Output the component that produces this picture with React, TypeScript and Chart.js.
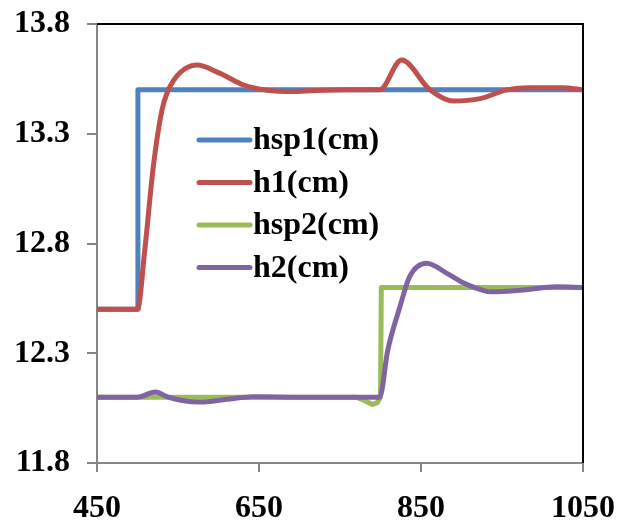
import React, { useEffect, useRef } from "react";
import { Chart, registerables } from "chart.js";

Chart.register(...registerables);

// ---- data ----
const seriesLabels = ["hsp1(cm)", "h1(cm)", "hsp2(cm)", "h2(cm)"];

const hsp1X = [450, 500, 500.5, 1050];
const hsp1Y = [12.5, 12.5, 13.5, 13.5];

const h1X = [450, 500, 509, 519.5, 530, 537, 544, 553, 562, 573, 602, 631, 660, 690, 720, 760, 799, 826, 861, 890, 923, 956, 984, 1025, 1050];
const h1Y = [12.5, 12.5, 12.77, 13.15, 13.405, 13.49, 13.54, 13.58, 13.603, 13.613, 13.575, 13.522, 13.498, 13.492, 13.497, 13.5, 13.5, 13.636, 13.5, 13.449, 13.46, 13.5, 13.51, 13.51, 13.5];

const hsp2X = [450, 770, 780, 790, 796, 800, 801, 1050];
const hsp2Y = [12.1, 12.1, 12.085, 12.067, 12.075, 12.1, 12.6, 12.6];

const h2X = [450, 500, 522, 538, 555, 577, 610, 643, 700, 799, 809, 824, 836, 857, 882, 900, 919, 935, 976, 1017, 1050];
const h2Y = [12.1, 12.1, 12.123, 12.1, 12.085, 12.078, 12.09, 12.102, 12.1, 12.1, 12.315, 12.512, 12.649, 12.71, 12.664, 12.625, 12.596, 12.58, 12.588, 12.603, 12.6];

const xTicks = [450, 650, 850, 1050];
const yTicks = [11.8, 12.3, 12.8, 13.3, 13.8];

const colors = ["#4F81BD", "#C0504D", "#9BBB59", "#8064A2"];

const toPts = (xs: number[], ys: number[]) => xs.map((x, i) => ({ x, y: ys[i] }));

const FONT = "'Liberation Serif', 'Times New Roman', serif";

const frameAndLegend = {
  id: "frameAndLegend",
  afterDraw(chart: any) {
    const { ctx, chartArea } = chart;
    ctx.save();
    // top and right frame
    ctx.strokeStyle = "#000000";
    ctx.lineWidth = 2;
    ctx.beginPath();
    ctx.moveTo(chartArea.left, chartArea.top);
    ctx.lineTo(chartArea.right, chartArea.top);
    ctx.lineTo(chartArea.right, chartArea.bottom);
    ctx.stroke();
    // legend
    const ds = chart.data.datasets;
    ctx.font = `bold 32px ${FONT}`;
    ctx.textBaseline = "middle";
    ctx.textAlign = "left";
    ds.forEach((d: any, i: number) => {
      const y = 140 + i * 42.5;
      ctx.strokeStyle = d.borderColor;
      ctx.lineWidth = 5;
      ctx.lineCap = "round";
      ctx.beginPath();
      ctx.moveTo(199, y);
      ctx.lineTo(250, y);
      ctx.stroke();
      ctx.fillStyle = "#000";
      ctx.fillText(d.label, 253, y + 1);
    });
    ctx.restore();
  },
};

export default function App() {
  const ref = useRef<HTMLCanvasElement>(null);
  useEffect(() => {
    document.body.style.margin = "0";
    const ctx = ref.current!.getContext("2d")!;
    const mk = (i: number, xs: number[], ys: number[], smooth: boolean, order: number) => ({
      label: seriesLabels[i],
      data: toPts(xs, ys),
      borderColor: colors[i],
      backgroundColor: colors[i],
      borderWidth: 5,
      pointRadius: 0,
      tension: smooth ? 0.4 : 0,
      cubicInterpolationMode: smooth ? "monotone" : "default",
      borderJoinStyle: "round",
      borderCapStyle: "round",
      fill: false,
      order,
    });
    const chart = new Chart(ctx, {
      type: "line",
      data: {
        datasets: [
          mk(0, hsp1X, hsp1Y, false, 4),
          mk(1, h1X, h1Y, true, 3),
          mk(2, hsp2X, hsp2Y, false, 2),
          mk(3, h2X, h2Y, true, 1),
        ] as any,
      },
      options: {
        responsive: false,
        animation: false,
        events: [],
        layout: { padding: { left: 0, right: 47, top: 24, bottom: 0 } },
        plugins: { legend: { display: false }, tooltip: { enabled: false } },
        scales: {
          x: {
            type: "linear",
            min: 450,
            max: 1050,
            afterBuildTicks: (s: any) => { s.ticks = xTicks.map((v) => ({ value: v })); },
            afterFit: (s: any) => { s.height = 59; s.paddingLeft = 0; s.paddingRight = 0; },
            grid: { display: true, drawOnChartArea: false, drawTicks: true, tickLength: 9, color: "#868686", lineWidth: 2 },
            border: { display: true, color: "#868686", width: 2 },
            ticks: {
              color: "#000",
              padding: 18,
              maxRotation: 0,
              font: { family: FONT, weight: "bold", size: 32 },
              callback: (v: any) => String(v),
            },
          },
          y: {
            type: "linear",
            min: 11.8,
            max: 13.8,
            afterBuildTicks: (s: any) => { s.ticks = yTicks.map((v) => ({ value: v })); },
            afterFit: (s: any) => { s.width = 97; s.paddingTop = 0; s.paddingBottom = 0; },
            grid: { display: true, drawOnChartArea: false, drawTicks: true, tickLength: 10, color: "#868686", lineWidth: 2 },
            border: { display: true, color: "#868686", width: 2 },
            ticks: {
              color: "#000",
              padding: 17,
              font: { family: FONT, weight: "bold", size: 32 },
              callback: (v: any) => Number(v).toFixed(1),
            },
          },
        },
      } as any,
      plugins: [frameAndLegend],
    });
    return () => chart.destroy();
  }, []);
  return (
    <div style={{ position: "fixed", left: 0, top: 0, width: 630, height: 522, background: "#fff" }}>
      <canvas ref={ref} width={630} height={522} style={{ width: 630, height: 522, display: "block" }} />
    </div>
  );
}
